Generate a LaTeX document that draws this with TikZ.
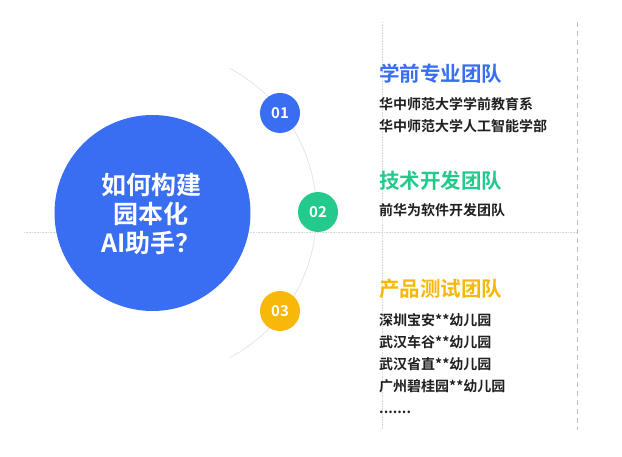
\documentclass[tikz,border=0pt]{standalone}
\usepackage{fontspec}
\setmainfont{Noto Sans CJK SC}
\newfontfamily\cjkbold{Noto Sans CJK SC}[BoldFont={Noto Sans CJK SC Bold}]
\usetikzlibrary{positioning}

\definecolor{mainblue}{RGB}{58,110,242}
\definecolor{teamgreen}{RGB}{36,201,140}
\definecolor{teamyellow}{RGB}{247,184,10}
\definecolor{bodygray}{RGB}{32,32,32}

\begin{document}
\begin{tikzpicture}[
		x=1pt, y=-1pt,
		badge/.style={circle, minimum size=40pt, inner sep=0pt, text=white, font=\cjkbold\bfseries\fontsize{15}{15}\selectfont},
		heading/.style={anchor=west, inner sep=0pt, text height=15pt, text depth=4pt, font=\cjkbold\bfseries\fontsize{20.5}{20.5}\selectfont},
		body/.style={inner sep=0pt, text height=11pt, text depth=3pt, text=bodygray, font=\cjkbold\bfseries\fontsize{14}{14}\selectfont},
		guide/.style={black!15, line width=0.6pt}
		]
		
		% page frame
		\useasboundingbox (0,0) rectangle (622,457);
		
		% guide lines
		\draw[guide, densely dotted] (24,232) -- (577,232);
		\draw[guide, densely dotted] (382,22) -- (382,430);
		\draw[black!25, line width=0.6pt, dash pattern=on 5pt off 4pt] (577,22) -- (577,430);
		
		% the big question
		\node[circle, fill=mainblue, minimum size=196pt, inner sep=0pt] (main) at (152.5,213) {};
		\node[text=white, align=center, font=\cjkbold\bfseries\fontsize{25}{29}\selectfont] (question) at (151,214) {如何构建\\园本化\\AI助手？};
		
		% arc through the badges
		\draw[black!10, line width=0.8pt] (main.center) ++(62:164) arc[start angle=62, end angle=-62, radius=164];
		
		\node[badge, fill=mainblue] (n1) at (280,113) {01};
		\node[badge, fill=teamgreen] (n2) at (318,212) {02};
		\node[badge, fill=teamyellow] (n3) at (280,311) {03};
		
		% team 1
		\node[heading, text=mainblue] (h1) at (379,76) {学前专业团队};
		\node[body, below=13pt of h1.south west, anchor=north west] (b11) {华中师范大学学前教育系};
		\node[body, below=7.5pt of b11.south west, anchor=north west] (b12) {华中师范大学人工智能学部};
		
		% team 2
		\node[heading, text=teamgreen] (h2) at (379,183) {技术开发团队};
		\node[body, below=12pt of h2.south west, anchor=north west] (b21) {前华为软件开发团队};
		
		% team 3
		\node[heading, text=teamyellow] (h3) at (379,291) {产品测试团队};
		\node[body, below=14pt of h3.south west, anchor=north west] (b31) {深圳宝安**幼儿园};
		\node[body, below=7.5pt of b31.south west, anchor=north west] (b32) {武汉车谷**幼儿园};
		\node[body, below=7.5pt of b32.south west, anchor=north west] (b33) {武汉省直**幼儿园};
		\node[body, below=7.5pt of b33.south west, anchor=north west] (b34) {广州碧桂园**幼儿园};
		\node[body, below=7.5pt of b34.south west, anchor=north west] (b35) {.......};
		
	\end{tikzpicture}
\end{document}
